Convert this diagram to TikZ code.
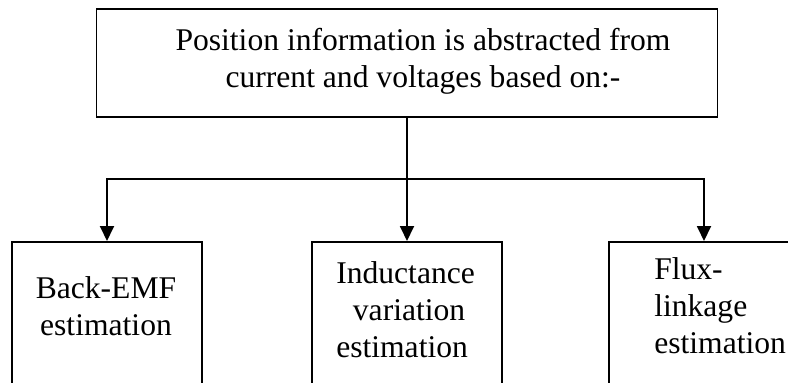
\documentclass[tikz,border=0pt]{standalone}
\usepackage{fontspec}
\setmainfont{Liberation Serif}
\usetikzlibrary{arrows.meta}
\tikzset{
  px/.style={x=0.75pt,y=-0.75pt},
  box/.style={draw=black,line width=1.4pt,fill=none,inner sep=0pt},
  lbl/.style={inner sep=0pt,font=\fontsize{23.7pt}{27.5pt}\selectfont},
  conn/.style={draw=black,line width=1.4pt},
  arr/.style={conn,-{Triangle[length=11.25pt,width=10.5pt]}}
}
\begin{document}
\begin{tikzpicture}[px]
\useasboundingbox (0,0) rectangle (788,382);
\clip (0,0) rectangle (788,382);
\fill[white] (0,0) rectangle (788,382);
% top box
\node[box,minimum width=465.75pt,minimum height=81pt] (top) at (407,63) {};
\node[lbl,align=center,anchor=base] (ttop) at (423,87) {Position information is abstracted from\\current and voltages based on:-};
% bottom boxes
\node[box,minimum width=142.5pt,minimum height=135pt,anchor=north] (b1) at (107,241) {};
\node[box,minimum width=142.5pt,minimum height=135pt,anchor=north] (b2) at (407,241) {};
\node[box,minimum width=142.5pt,minimum height=135pt,anchor=north] (b3) at (704,241) {};
\node[lbl,align=center,anchor=base] (t1) at (106,335) {Back-EMF\\estimation};
\node[lbl,align=left,anchor=base west] (t2) at (336,357) {Inductance\\\hspace*{12.5pt}variation\\estimation};
\node[lbl,align=left,anchor=base west] (t3) at (654,353) {Flux-\\linkage\\estimation};
% connectors
\coordinate (j) at (407,179);
\coordinate (j1) at (107,179);
\coordinate (j3) at (704,179);
\draw[conn] (top.south) -- (j);
\draw[conn,line cap=rect] (j1) -- (j3);
\draw[arr] (j1) -- (b1.north);
\draw[arr] (j) -- (b2.north);
\draw[arr] (j3) -- (b3.north);
\end{tikzpicture}
\end{document}
